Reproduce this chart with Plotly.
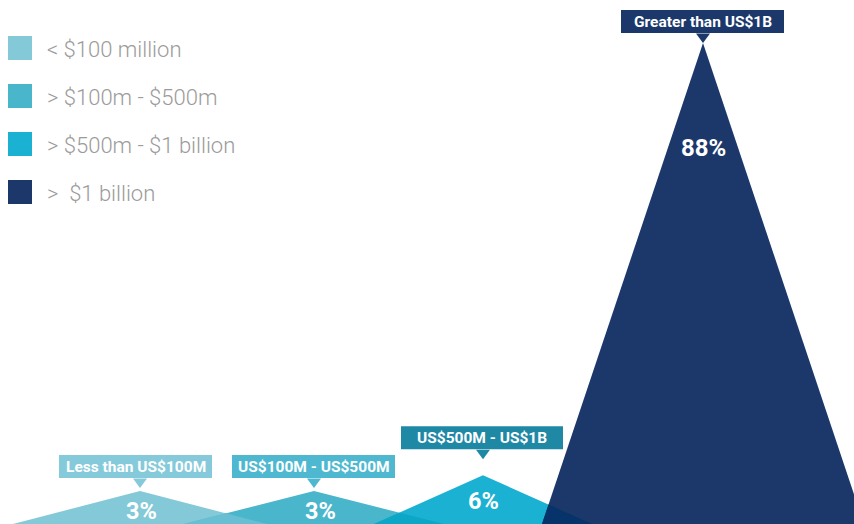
import plotly.graph_objects as go

# ---- data -------------------------------------------------------------
categories = ["< $100 million", "> $100m - $500m", "> $500m - $1 billion", ">\u00a0 $1 billion"]
callout_labels = ["Less than US$100M", "US$100M - US$500M", "US$500M - US$1B", "Greater than US$1B"]
shares = [3, 3, 6, 88]

# ---- styling / layout --------------------------------------------------
W, H = 854, 524
Y_RANGE = [-3.26, 96.17]               # value axis; base of every peak sits at the bottom edge
peak_x = [140, 314, 483, 703]           # horizontal centre of each peak (x axis in px units)
half_base = [127, 130, 109, 161]        # half width of each peak at the bottom edge
fill_colors = ["#84C9D8", "#4AB6CC", "#1AB1D2", "#1C386B"]
box_colors = ["#85CADA", "#4DB8CF", "#1F88A5", "#1C386B"]
overlap_colors = ["#68BED2", "#0CA6C7", "#06336A"]
box_width = [153, 163, 162, 163]
box_dx = [-4.5, -0.5, -1, -0.5]         # box centre relative to the pointer
tip_gap = [3, 3, 16, 0]                 # px between pointer tip and peak
pct_dy = [20, 20, 26, 105]              # px from peak down to the percentage label
pct_dx = [1, 6, 0, 0]
pct_size = [23.5, 23.5, 23.5, 24]
BOX_H, PTR_W, PTR_H = 23, 7, 10

FONT = "Roboto"


def val_to_px(v):
    return H * (1 - (v - Y_RANGE[0]) / (Y_RANGE[1] - Y_RANGE[0]))


def px_to_val(p):
    return Y_RANGE[0] + (1 - p / H) * (Y_RANGE[1] - Y_RANGE[0])


base = Y_RANGE[0]
fig = go.Figure()

# peaks
tris = []
for cx, hw, v, col in zip(peak_x, half_base, shares, fill_colors):
    xs = [cx - hw, cx, cx + hw, cx - hw]
    ys = [base, v, base, base]
    tris.append((cx, hw, v))
    fig.add_trace(go.Scatter(x=xs, y=ys, mode="lines", fill="toself",
                             fillcolor=col, line=dict(width=0),
                             hoverinfo="skip", showlegend=False))

# darker areas where neighbouring peaks overlap
for i in range(len(tris) - 1):
    (ax, ahw, av), (bx, bhw, bv) = tris[i], tris[i + 1]
    a_right, b_left = ax + ahw, bx - bhw
    if a_right <= b_left:
        continue
    # edges as x = apex_x + k * (apex_v - y)
    ka = ahw / (av - base)
    kb = -bhw / (bv - base)
    y = (ax + ka * av - bx - kb * bv) / (ka - kb)
    x = ax + ka * (av - y)
    fig.add_trace(go.Scatter(x=[b_left, x, a_right, b_left], y=[base, y, base, base],
                             mode="lines", fill="toself", fillcolor=overlap_colors[i],
                             line=dict(width=0), hoverinfo="skip", showlegend=False))

shapes = []
annotations = []

# callout boxes with a pointer down to each peak
for i, (cx, v, lab) in enumerate(zip(peak_x, shares, callout_labels)):
    tip_px = val_to_px(v) - tip_gap[i]
    bottom_px = tip_px - PTR_H
    top_px = bottom_px - BOX_H
    bcx = cx + box_dx[i]
    shapes.append(dict(type="rect", xref="x", yref="y",
                       x0=bcx - box_width[i] / 2, x1=bcx + box_width[i] / 2,
                       y0=px_to_val(bottom_px), y1=px_to_val(top_px),
                       fillcolor=box_colors[i], line=dict(width=0), layer="above"))
    path = "M {a},{yb} L {b},{yb} L {c},{yt} Z".format(
        a=cx - PTR_W, b=cx + PTR_W, c=cx,
        yb=px_to_val(bottom_px + 0.5), yt=px_to_val(tip_px))
    shapes.append(dict(type="path", xref="x", yref="y", path=path,
                       fillcolor=box_colors[i], line=dict(width=0), layer="above"))
    annotations.append(dict(x=bcx, y=px_to_val((top_px + bottom_px) / 2), xref="x", yref="y",
                            text=lab, showarrow=False, xanchor="center", yanchor="middle",
                            font=dict(family=FONT, size=15.5, color="white", weight="bold")))
    # percentage inside the peak
    annotations.append(dict(x=cx + pct_dx[i], y=px_to_val(val_to_px(v) + pct_dy[i]),
                            xref="x", yref="y", text=f"{v}%", showarrow=False,
                            xanchor="center", yanchor="middle",
                            font=dict(family=FONT, size=pct_size[i], color="white", weight="bold")))

# legend drawn as swatches with labels
for i, (cat, col) in enumerate(zip(categories, fill_colors)):
    cy = 48 + 48 * i
    shapes.append(dict(type="rect", xref="x", yref="y", x0=8, x1=32,
                       y0=px_to_val(cy + 12), y1=px_to_val(cy - 12),
                       fillcolor=col, line=dict(width=0), layer="above"))
    annotations.append(dict(x=45, y=px_to_val(cy + 1), xref="x", yref="y", text=cat,
                            showarrow=False, xanchor="left", yanchor="middle",
                            font=dict(family=FONT, size=22, color="#9B9B9B", weight=300)))

fig.update_layout(
    width=W, height=H, margin=dict(l=0, r=0, t=0, b=0),
    paper_bgcolor="white", plot_bgcolor="white",
    xaxis=dict(range=[0, W], visible=False, fixedrange=True),
    yaxis=dict(range=Y_RANGE, visible=False, fixedrange=True),
    shapes=shapes, annotations=annotations, showlegend=False,
)

fig.write_html("out.html")
